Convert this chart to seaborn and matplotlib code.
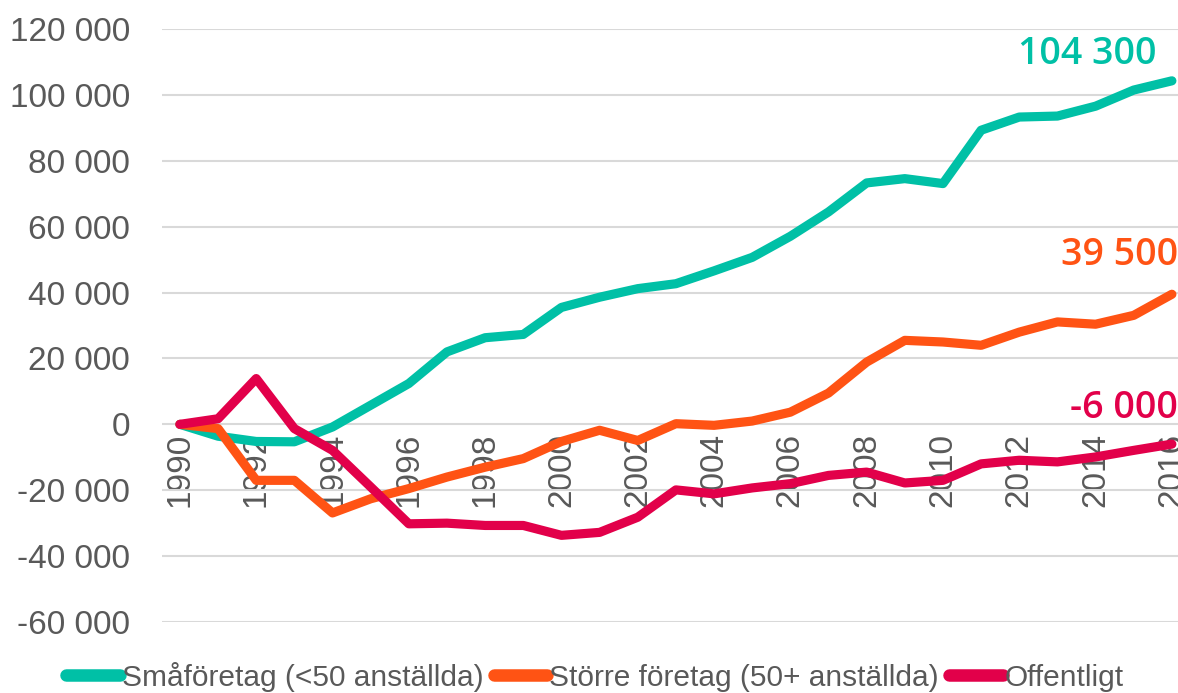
import matplotlib
matplotlib.use("Agg")
import matplotlib.pyplot as plt
import seaborn as sns
import pandas as pd

years = list(range(1990, 2017))
small = [0, -3600, -5200, -5300, -800, 5800, 12400, 22000, 26300, 27300, 35500, 38600,
         41200, 42700, 46600, 50700, 57100, 64500, 73300, 74600, 73100, 89300, 93300,
         93600, 96600, 101500, 104300]
large = [0, -1300, -17000, -17000, -26900, -22600, -19500, -16000, -13000, -10400, -5200,
         -1800, -4900, 200, -300, 1000, 3700, 9500, 18900, 25500, 25000, 24000, 28000,
         31100, 30400, 33100, 39500]
public = [0, 1700, 13900, -1300, -7900, -19000, -30200, -30000, -30700, -30700, -33700,
          -32800, -28200, -19900, -21100, -19300, -18000, -15500, -14500, -17800, -17000,
          -12000, -10900, -11400, -9900, -7900, -6000]
series_names = ["Småföretag (<50 anställda)", "Större företag (50+ anställda)", "Offentligt"]
end_labels = ["104 300", "39 500", "-6 000"]
colors = ["#00C0A6", "#FF5314", "#E2004A"]
y_ticks = list(range(-60000, 120001, 20000))
x_ticks = list(range(1990, 2017, 2))

df = pd.concat([
    pd.DataFrame({"year": years, "value": vals, "serie": name})
    for name, vals in zip(series_names, [small, large, public])
])

sns.set_theme(style="white")
plt.rcParams["font.family"] = ["Liberation Sans", "DejaVu Sans"]

fig = plt.figure(figsize=(11.78, 6.93), dpi=100)
ax = fig.add_axes([0.1375, 0.1025, 0.8625, 0.8555])

sns.lineplot(data=df, x="year", y="value", hue="serie", palette=colors,
             linewidth=6.6, ax=ax, solid_capstyle="round", solid_joinstyle="round", zorder=3)

ax.set_xlim(1990 - 0.47, 2016 + 0.16)
ax.set_ylim(-60000, 120000)
ax.set_yticks(y_ticks)
ax.set_yticklabels([f"{v:,}".replace(",", " ") for v in y_ticks])
ax.set_xticks(x_ticks)
ax.set_xticklabels([str(x) for x in x_ticks])
ax.grid(axis="y", color="#D9D9D9", linewidth=1.5, zorder=0)
ax.grid(axis="x", visible=False)
for s in ["top", "right", "left"]:
    ax.spines[s].set_visible(False)
ax.spines["bottom"].set_position(("data", 0))
ax.spines["bottom"].set_visible(False)
ax.tick_params(axis="both", length=0, labelsize=24, colors="#595959")
ax.tick_params(axis="x", pad=6, labelrotation=90)
ax.tick_params(axis="y", pad=23)
for lab in ax.get_xticklabels():
    lab.set_va("top")
    lab.set_ha("center")
ax.set_xlabel("")
ax.set_ylabel("")

# End labels
offsets = [(2015.6, 112500), (2016.16, 51500), (2016.16, 5000)]
for (xx, yy), txt, c in zip(offsets, end_labels, colors):
    ax.text(xx, yy, txt, color=c, fontsize=27, ha="right", va="center",
            family=["Open Sans", "DejaVu Sans"], fontweight="semibold")

leg = ax.legend(loc="lower center", bbox_to_anchor=(0.505, 0.0), ncol=3, frameon=False,
                prop={"family": ["Liberation Sans", "DejaVu Sans"], "size": 21.5},
                handlelength=1.8, handletextpad=0.05, columnspacing=0.35,
                bbox_transform=fig.transFigure, borderaxespad=0.0, borderpad=0.05)
for t in leg.get_texts():
    t.set_color("#595959")
for h in leg.get_lines():
    h.set_linewidth(9)
    h.set_solid_capstyle("round")

fig.savefig("out.png", dpi=100)
